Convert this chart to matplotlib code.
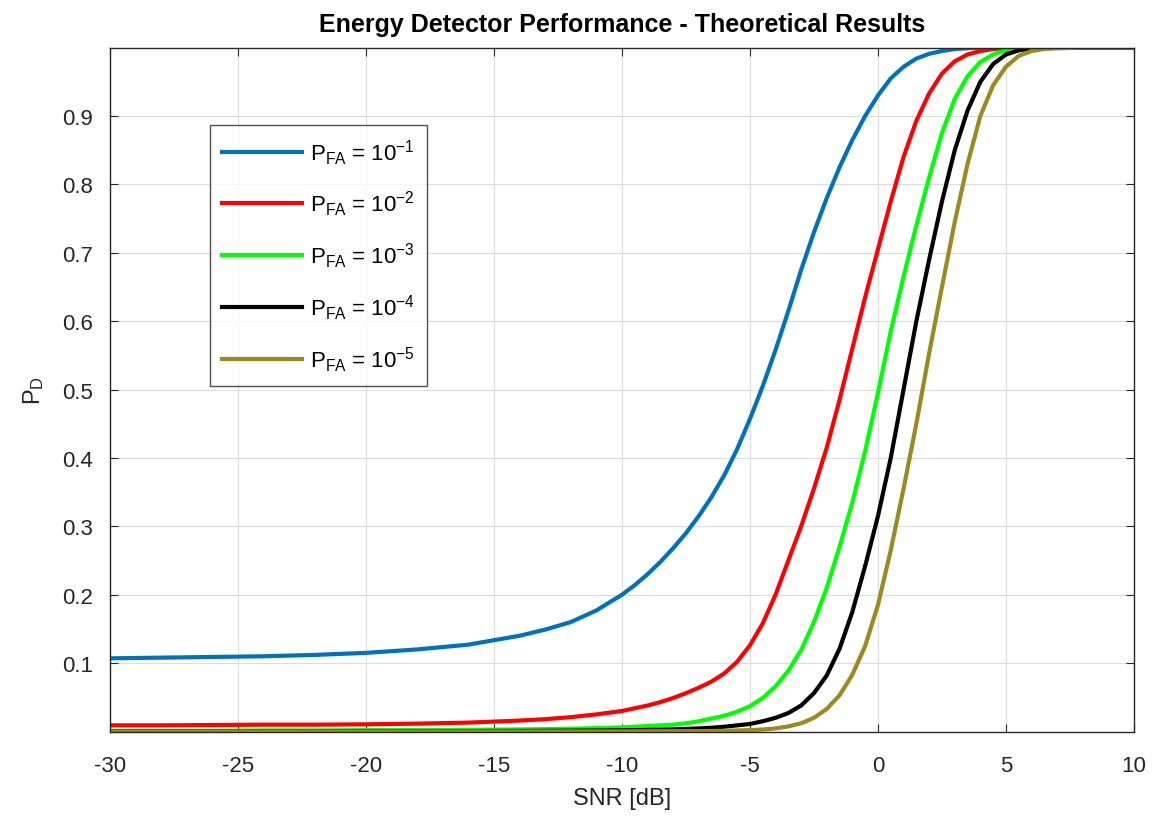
import numpy as np
import matplotlib
matplotlib.use('Agg')
import matplotlib.pyplot as plt

plt.rcParams['font.family'] = ['Liberation Sans', 'DejaVu Sans']
plt.rcParams['mathtext.fontset'] = 'custom'
plt.rcParams['mathtext.rm'] = 'Liberation Sans'
plt.rcParams['mathtext.it'] = 'Liberation Sans'
plt.rcParams['axes.unicode_minus'] = False

# SNR grid [dB]
snr = [-30, -28, -26, -24, -22, -20, -18, -16, -14, -13, -12, -11, -10, -9.5, -9, -8.5, -8,
       -7.5, -7, -6.5, -6, -5.5, -5, -4.5, -4, -3.5, -3, -2.5, -2, -1.5, -1, -0.5, 0, 0.5,
       1, 1.5, 2, 2.5, 3, 3.5, 4, 4.5, 5, 5.5, 6, 6.5, 7, 8, 10]

# P_D, one list per P_FA
pd_1 = [0.107, 0.108, 0.109, 0.110, 0.112, 0.115, 0.120, 0.127, 0.140, 0.149, 0.160, 0.177, 0.200,
        0.214, 0.230, 0.248, 0.268, 0.290, 0.315, 0.343, 0.375, 0.413, 0.457, 0.505, 0.558, 0.615,
        0.675, 0.730, 0.780, 0.825, 0.865, 0.900, 0.930, 0.955, 0.972, 0.984, 0.991, 0.995, 0.998,
        0.999, 1.0, 1.0, 1.0, 1.0, 1.0, 1.0, 1.0, 1.0, 1.0]
pd_2 = [0.009, 0.009, 0.0095, 0.010, 0.010, 0.0105, 0.0115, 0.013, 0.016, 0.018, 0.021, 0.025, 0.030,
        0.034, 0.038, 0.043, 0.049, 0.056, 0.064, 0.073, 0.085, 0.102, 0.126, 0.158, 0.200, 0.250,
        0.300, 0.355, 0.415, 0.485, 0.560, 0.635, 0.705, 0.775, 0.840, 0.893, 0.933, 0.962, 0.980,
        0.990, 0.995, 0.998, 0.999, 1.0, 1.0, 1.0, 1.0, 1.0, 1.0]
pd_3 = [0.001, 0.001, 0.001, 0.0015, 0.0015, 0.002, 0.002, 0.0025, 0.003, 0.0035, 0.004, 0.005, 0.006,
        0.007, 0.008, 0.009, 0.010, 0.012, 0.015, 0.019, 0.023, 0.029, 0.037, 0.049, 0.066, 0.089,
        0.119, 0.160, 0.210, 0.270, 0.335, 0.410, 0.495, 0.585, 0.665, 0.740, 0.810, 0.875, 0.925,
        0.958, 0.979, 0.990, 0.996, 0.998, 0.999, 1.0, 1.0, 1.0, 1.0]
pd_4 = [0.0002, 0.0002, 0.0002, 0.0003, 0.0003, 0.0004, 0.0005, 0.0006, 0.0008, 0.001, 0.0012, 0.0015,
        0.0018, 0.002, 0.0023, 0.0027, 0.0032, 0.0038, 0.0045, 0.0055, 0.007, 0.009, 0.011, 0.015,
        0.020, 0.027, 0.038, 0.056, 0.082, 0.121, 0.175, 0.242, 0.315, 0.400, 0.500, 0.600, 0.690,
        0.775, 0.850, 0.908, 0.950, 0.976, 0.990, 0.996, 0.999, 1.0, 1.0, 1.0, 1.0]
pd_5 = [0.00005, 0.00005, 0.00005, 0.00005, 0.00006, 0.00007, 0.00008, 0.0001, 0.00012, 0.00014,
        0.00016, 0.00018, 0.0002, 0.00025, 0.0003, 0.00035, 0.0004, 0.0005, 0.0006, 0.0008, 0.001,
        0.0015, 0.002, 0.003, 0.0045, 0.0075, 0.012, 0.020, 0.033, 0.053, 0.083, 0.125, 0.185, 0.265,
        0.355, 0.450, 0.553, 0.650, 0.745, 0.830, 0.900, 0.945, 0.972, 0.988, 0.995, 0.998, 0.999,
        1.0, 1.0]

labels = [r'P$_{\mathrm{FA}}$ = 10$^{-1}$', r'P$_{\mathrm{FA}}$ = 10$^{-2}$',
          r'P$_{\mathrm{FA}}$ = 10$^{-3}$', r'P$_{\mathrm{FA}}$ = 10$^{-4}$',
          r'P$_{\mathrm{FA}}$ = 10$^{-5}$']
colors = ['#0072BD', '#FF0000', '#00FF00', '#000000', '#9A8A20']

fig = plt.figure(figsize=(11.61, 8.2), dpi=100)
ax = fig.add_axes([0.0947, 0.1067, 0.882, 0.834])

for pd_vals, lab, col in zip([pd_1, pd_2, pd_3, pd_4, pd_5], labels, colors):
    ax.plot(snr, pd_vals, color=col, linewidth=3.0, label=lab, solid_joinstyle='round')

ax.set_xlim(-30, 10)
ax.set_ylim(0, 1)
ax.set_xticks(range(-30, 11, 5))
ax.set_yticks(np.arange(0.1, 0.95, 0.1))
ax.set_yticklabels(['0.1', '0.2', '0.3', '0.4', '0.5', '0.6', '0.7', '0.8', '0.9'])
ax.grid(True, color='#dcdcdc', linewidth=0.8)
ax.tick_params(direction='in', top=True, right=True, labelsize=16, colors='#262626',
               length=6)
ax.tick_params(axis='x', pad=17)
ax.tick_params(axis='y', pad=12)
for s in ax.spines.values():
    s.set_color('#262626')
    s.set_linewidth(1.0)

ax.set_xlabel('SNR [dB]', fontsize=17, color='#262626', labelpad=8)
ax.set_ylabel(r'P$_{\mathrm{D}}$', fontsize=17, color='#262626', labelpad=12)
ax.set_title('Energy Detector Performance - Theoretical Results', fontsize=18,
             fontweight='bold', pad=12)

leg = ax.legend(loc='upper left', bbox_to_anchor=(0.0977, 0.887), fontsize=16,
                frameon=True, fancybox=False, edgecolor='#262626', handlelength=3.6,
                labelspacing=1.0, borderpad=0.55, handletextpad=0.35, borderaxespad=0)
leg.get_frame().set_linewidth(1.0)

fig.savefig('out.png', dpi=100)
